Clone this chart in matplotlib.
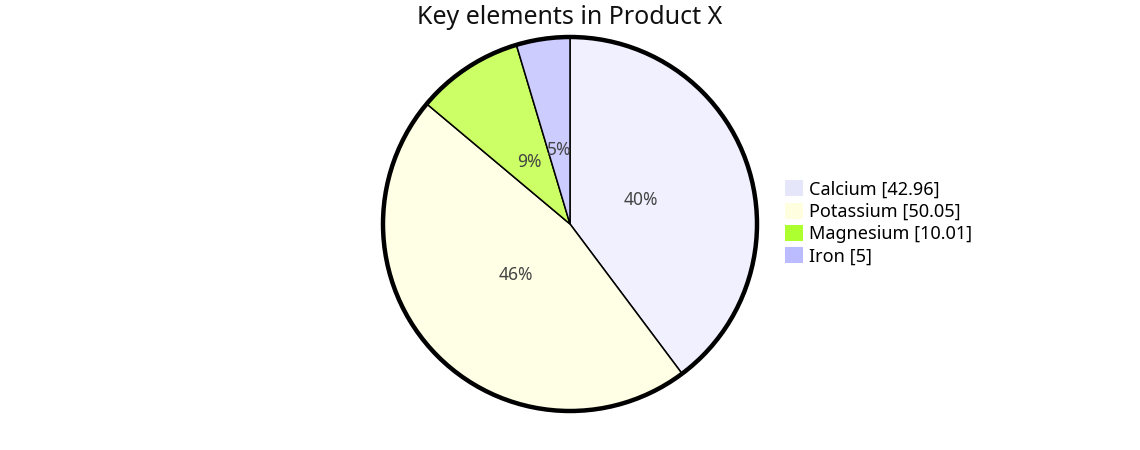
import matplotlib.pyplot as plt
from matplotlib.patches import Circle, Patch

plt.rcParams['font.family'] = ['Noto Sans', 'DejaVu Sans']

names = ["Calcium", "Potassium", "Magnesium", "Iron"]
values = [42.96, 50.05, 10.01, 5]
pie_colors = ["#F0F0FF", "#FFFFE6", "#CCFF66", "#CCCCFF"]
legend_colors = ["#E6E6FA", "#FFFFE0", "#ADFF2F", "#BBBBFF"]

fig = plt.figure(figsize=(11.4, 4.5), dpi=100)
ax = fig.add_axes([383 / 1140, 39 / 450, 374 / 1140, 374 / 450])

wedges, texts, autotexts = ax.pie(
    values, colors=pie_colors, startangle=90, counterclock=False,
    autopct='%1.0f%%', pctdistance=0.4,
    wedgeprops=dict(edgecolor='black', linewidth=1.1, clip_on=False),
    textprops=dict(color='#444444', fontsize=12.5))
ax.add_patch(Circle((0, 0), 1.0, fill=False, edgecolor='black', linewidth=3.2,
                    zorder=5, clip_on=False))
ax.set_xlim(-1.0, 1.0)
ax.set_ylim(-1.0, 1.0)
ax.set_aspect('equal')
ax.axis('off')

fig.text(0.5, 0.96, "Key elements in Product X", ha='center', va='center',
         fontsize=18, color='#111111')

handles = [Patch(facecolor=c, edgecolor='none') for c in legend_colors]
labels = [f"{n} [{v:g}]" for n, v in zip(names, values)]
fig.legend(handles, labels, loc='center left', bbox_to_anchor=(0.6825, 0.505),
           frameon=False, fontsize=13, handlelength=1.0, handleheight=1.0,
           handletextpad=0.3, labelspacing=0.22, borderaxespad=0)

fig.savefig("out.png", dpi=100)
